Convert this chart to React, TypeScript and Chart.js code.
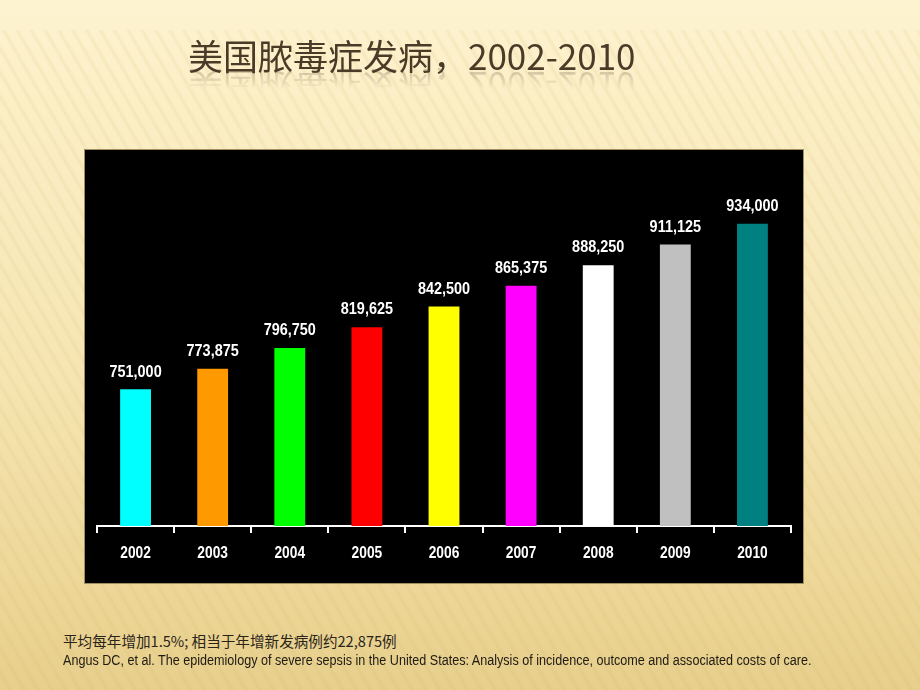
import React, { useEffect, useRef } from "react";
import { Chart, registerables } from "chart.js";

Chart.register(...registerables);

const years = ["2002", "2003", "2004", "2005", "2006", "2007", "2008", "2009", "2010"];
const cases = [751000, 773875, 796750, 819625, 842500, 865375, 888250, 911125, 934000];
const barColors = ["#00FFFF", "#FF9900", "#00FF00", "#FF0000", "#FFFF00", "#FF00FF", "#FFFFFF", "#C0C0C0", "#008080"];
const titleText = "美国脓毒症发病，2002-2010";
const note1 = "平均每年增加1.5%; 相当于年增新发病例约22,875例";
const note2 = "Angus DC, et al. The epidemiology of severe sepsis in the United States: Analysis of incidence, outcome and associated costs of care.";

const SANS = '"Liberation Sans", Arial, sans-serif';

function narrowText(ctx: CanvasRenderingContext2D, text: string, x: number, y: number, sx: number) {
  ctx.save();
  ctx.translate(x, y);
  ctx.scale(sx, 1);
  ctx.fillText(text, 0, 0);
  ctx.restore();
}

const customLabels = {
  id: "customLabels",
  afterDraw(chart: any) {
    const ctx = chart.ctx as CanvasRenderingContext2D;
    const meta = chart.getDatasetMeta(0);
    const xs = chart.scales.x;
    ctx.save();
    ctx.fillStyle = "#FFFFFF";
    ctx.font = `bold 17px ${SANS}`;
    ctx.textAlign = "center";
    ctx.textBaseline = "bottom";
    meta.data.forEach((el: any, i: number) => {
      const v = chart.data.datasets[0].data[i] as number;
      narrowText(ctx, v.toLocaleString("en-US"), el.x, el.y - 9, 0.85);
    });
    ctx.textBaseline = "middle";
    (chart.data.labels as string[]).forEach((lab, i) => {
      narrowText(ctx, lab, xs.getPixelForTick(i), chart.chartArea.bottom + 27, 0.81);
    });
    ctx.restore();
  },
};

export default function App() {
  const ref = useRef<HTMLCanvasElement>(null);
  useEffect(() => {
    if (!ref.current) return;
    const chart = new Chart(ref.current, {
      type: "bar",
      data: {
        labels: years,
        datasets: [
          {
            data: cases,
            backgroundColor: barColors,
            borderWidth: 0,
            barPercentage: 0.4,
            categoryPercentage: 1,
          },
        ],
      },
      options: {
        animation: false,
        responsive: false,
        maintainAspectRatio: false,
        layout: { padding: { left: 12, right: 12, top: 14, bottom: 0 } },
        plugins: { legend: { display: false }, tooltip: { enabled: false } },
        scales: {
          y: { display: false, min: 600000, max: 1000000 },
          x: {
            afterFit: (scale: any) => {
              scale.height = 57;
            },
            border: { display: true, color: "#FFFFFF", width: 2 },
            grid: {
              display: true,
              offset: true,
              drawOnChartArea: false,
              drawTicks: true,
              tickLength: 7,
              color: "#FFFFFF",
              lineWidth: 2,
            },
            ticks: {
              color: "rgba(0,0,0,0)",
              font: { family: SANS, size: 17, weight: "bold" },
              padding: 10,
            },
          },
        },
      },
      plugins: [customLabels],
    });
    return () => chart.destroy();
  }, []);

  return (
    <div
      style={{
        position: "fixed",
        left: 0,
        top: 0,
        width: 920,
        height: 690,
        overflow: "hidden",
        background:
          "linear-gradient(180deg, #FDF3D0 0%, #FBEFC6 15%, #F6E5B2 55%, #EDD798 85%, #E7CF8C 100%)",
      }}
    >
      <div
        style={{
          position: "absolute",
          left: 0,
          top: 30,
          width: 920,
          height: 660,
          background:
            "repeating-linear-gradient(60deg, rgba(200,170,90,0) 0px, rgba(200,170,90,0) 6px, rgba(200,170,90,0.12) 9px, rgba(200,170,90,0) 12px)",
        }}
      />
      <div
        style={{
          position: "absolute",
          left: 188,
          top: 34,
          fontFamily: '"Noto Sans CJK SC", sans-serif',
          fontSize: 35,
          lineHeight: "42px",
          color: "#4A3A28",
          whiteSpace: "nowrap",
          WebkitBoxReflect: "below -10px linear-gradient(transparent 45%, rgba(255,255,255,0.3))",
        } as any}
      >
        {titleText}
      </div>
      <div
        style={{
          position: "absolute",
          left: 85,
          top: 150,
          width: 718,
          height: 433,
          background: "#000000",
          boxShadow: "0 0 0 1px #A08F5E",
        }}
      >
        <canvas ref={ref} width={718} height={433} style={{ display: "block" }} />
      </div>
      <div
        style={{
          position: "absolute",
          left: 63,
          top: 631,
          fontFamily: '"Noto Sans CJK SC", "Liberation Sans", sans-serif',
          fontSize: 14.6,
          lineHeight: "19px",
          color: "#2A2418",
          whiteSpace: "nowrap",
        }}
      >
        {note1}
      </div>
      <div
        style={{
          position: "absolute",
          left: 63,
          top: 651,
          fontFamily: SANS,
          fontSize: 14,
          lineHeight: "18px",
          color: "#1E1A12",
          whiteSpace: "nowrap",
          transform: "scaleX(0.9)",
          transformOrigin: "0 0",
        }}
      >
        {note2}
      </div>
    </div>
  );
}
